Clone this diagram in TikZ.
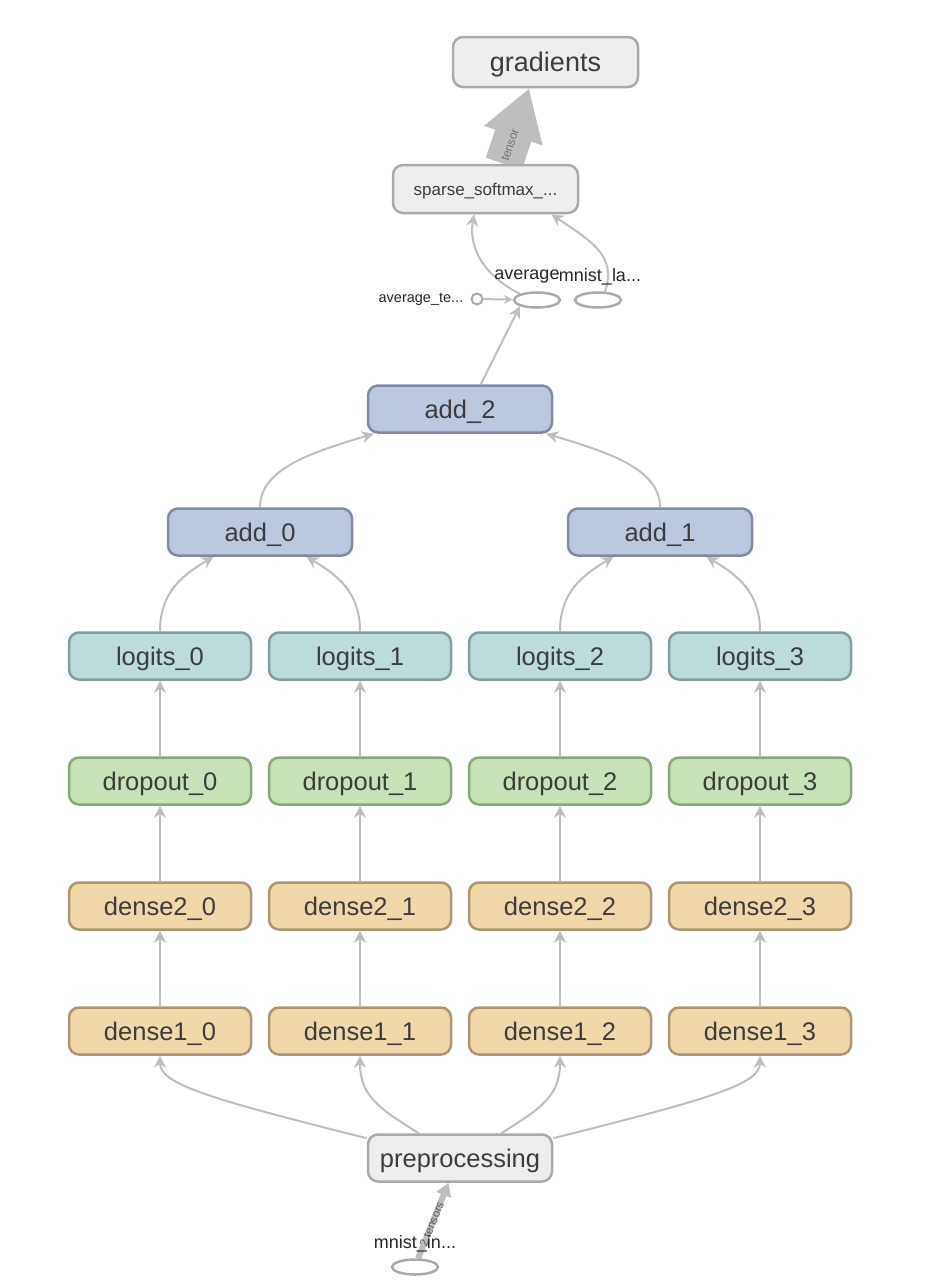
\documentclass[tikz,border=0pt]{standalone}
\usepackage{fontspec}
\setmainfont{Liberation Sans}
\usepackage{xcolor}
\usepackage{tikz}
\usetikzlibrary{shapes.geometric, arrows.meta, positioning, calc, backgrounds}
\definecolor{opfill}{RGB}{238,238,238}
\definecolor{opline}{RGB}{170,170,170}
\definecolor{addfill}{RGB}{188,200,222}
\definecolor{addline}{RGB}{128,138,160}
\definecolor{logfill}{RGB}{189,219,219}
\definecolor{logline}{RGB}{130,158,158}
\definecolor{dropfill}{RGB}{199,225,184}
\definecolor{dropline}{RGB}{138,166,122}
\definecolor{densefill}{RGB}{240,216,168}
\definecolor{denseline}{RGB}{170,150,112}
\definecolor{edgegray}{RGB}{190,190,190}
\definecolor{ink}{RGB}{60,60,60}

\begin{document}
\begin{tikzpicture}[x=1pt, y=-1pt,
  box/.style={rectangle, rounded corners=10pt, line width=2.5pt,
              minimum width=184pt, minimum height=47pt, inner sep=0pt,
              text depth=0pt, text=ink, font=\fontsize{25.5}{30}\selectfont},
  op/.style={box, draw=opline, fill=opfill},
  addop/.style={box, draw=addline, fill=addfill},
  logit/.style={box, minimum width=182pt, draw=logline, fill=logfill},
  drop/.style={box, minimum width=182pt, draw=dropline, fill=dropfill},
  dense/.style={box, minimum width=182pt, draw=denseline, fill=densefill},
  ph/.style={ellipse, draw=opline, line width=2.5pt, minimum width=46pt,
             minimum height=15pt, inner sep=0pt},
  lbl/.style={text=black!85, font=\fontsize{18}{20}\selectfont, inner sep=0pt},
  tlbl/.style={inner sep=0pt, font=\fontsize{11.5}{12}\selectfont},
  arr/.style={-{Stealth[length=12pt, width=12pt]}, line width=2pt, edgegray},
  fat/.style={-{Triangle[width=58pt, length=50pt]}, line width=38pt, edgegray},
  fatsmall/.style={-{Triangle[width=15pt, length=13pt]}, line width=6pt, edgegray},
  node distance=75.5pt and 15.5pt
]
\useasboundingbox (0,0) rectangle (946,1286);

% towers
\node[dense] (d10) at (160,1031) {dense1\_0};
\node[dense, right=of d10] (d11) {dense1\_1};
\node[dense, right=of d11] (d12) {dense1\_2};
\node[dense, right=of d12] (d13) {dense1\_3};
\node[dense, above=of d10] (d20) {dense2\_0};
\node[dense, above=of d11] (d21) {dense2\_1};
\node[dense, above=of d12] (d22) {dense2\_2};
\node[dense, above=of d13] (d23) {dense2\_3};
\node[drop, above=of d20] (dr0) {dropout\_0};
\node[drop, above=of d21] (dr1) {dropout\_1};
\node[drop, above=of d22] (dr2) {dropout\_2};
\node[drop, above=of d23] (dr3) {dropout\_3};
\node[logit, above=of dr0] (l0) {logits\_0};
\node[logit, above=of dr1] (l1) {logits\_1};
\node[logit, above=of dr2] (l2) {logits\_2};
\node[logit, above=of dr3] (l3) {logits\_3};

% sums
\coordinate (l01) at ($(l0.north)!0.5!(l1.north)$);
\coordinate (l23) at ($(l2.north)!0.5!(l3.north)$);
\node[addop, above=74.5pt of l01] (a0) {add\_0};
\node[addop, above=74.5pt of l23] (a1) {add\_1};
\coordinate (a01) at ($(a0.north)!0.5!(a1.north)$);
\node[addop, above=73.5pt of a01] (a2) {add\_2};

% input side
\coordinate (d12m) at ($(d11.south)!0.5!(d12.south)$);
\node[op, below=77.5pt of d12m] (pre) {preprocessing};
\node[ph] (mi) at (415,1267) {};
\node[lbl] (mil) at (415,1244) {mnist\_in...};

% loss side
\node[ph] (avg) at (537,300) {};
\node[ph] (mla) at (598,300) {};
\node[circle, draw=opline, line width=2pt, minimum size=11pt, inner sep=0pt] (avt) at (477,299) {};
\node[lbl, font=\fontsize{14.5}{16}\selectfont, left=7pt of avt] (avtl) {average\_te...};
\node[lbl] (avgl) at (527,277) {average};
\node[lbl] (mlal) at (600,277) {mnist\_la...};
\node[op, minimum width=185pt, minimum height=48pt, font=\fontsize{17}{20}\selectfont] (sp) at (485.5,189) {sparse\_softmax\_...};
\node[op, minimum width=185pt, minimum height=50pt, font=\fontsize{27}{32}\selectfont] (gr) at (545.5,62) {gradients};

\begin{scope}[on background layer]
\draw[fatsmall] (mi.70) -- node[sloped, pos=0.45, tlbl, text=ink!85] {2 tensors} (pre.-115);
\draw[arr] (pre.168) .. controls +(-160,-40) and +(0,28) .. (d10.south);
\draw[arr] (pre.149) .. controls +(-40,-25) and +(0,40) .. (d11.south);
\draw[arr] (pre.31)  .. controls +(40,-25) and +(0,40) .. (d12.south);
\draw[arr] (pre.12)  .. controls +(160,-40) and +(0,28) .. (d13.south);
\draw[arr] (d10) -- (d20);
\draw[arr] (d11) -- (d21);
\draw[arr] (d12) -- (d22);
\draw[arr] (d13) -- (d23);
\draw[arr] (d20) -- (dr0);
\draw[arr] (d21) -- (dr1);
\draw[arr] (d22) -- (dr2);
\draw[arr] (d23) -- (dr3);
\draw[arr] (dr0) -- (l0);
\draw[arr] (dr1) -- (l1);
\draw[arr] (dr2) -- (l2);
\draw[arr] (dr3) -- (l3);
\draw[arr] (l0.north) .. controls +(0,-40) and +(-30,18) .. (a0.-152);
\draw[arr] (l1.north) .. controls +(0,-40) and +(30,18) .. (a0.-28);
\draw[arr] (l2.north) .. controls +(0,-40) and +(-30,18) .. (a1.-152);
\draw[arr] (l3.north) .. controls +(0,-40) and +(30,18) .. (a1.-28);
\draw[arr] (a0.north) .. controls +(0,-39) and +(-60,18) .. (a2.-164);
\draw[arr] (a1.north) .. controls +(0,-39) and +(60,18) .. (a2.-16);
\draw[arr] (a2.50) -- (avg.south west);
\draw[arr, -{Stealth[length=9pt, width=9pt]}] (avt) -- (avg);
\draw[arr] (avg.north west) .. controls +(-43,-22) and +(-5,27) .. (sp.-114);
\draw[arr] (mla.50) .. controls +(12,-36) and +(40,27) .. (sp.-21);
\draw[fat] (sp.54) -- node[sloped, pos=0.25, tlbl, text=black!55, font=\fontsize{12}{13}\selectfont] {tensor} (gr.-122);
\end{scope}
\end{tikzpicture}
\end{document}
